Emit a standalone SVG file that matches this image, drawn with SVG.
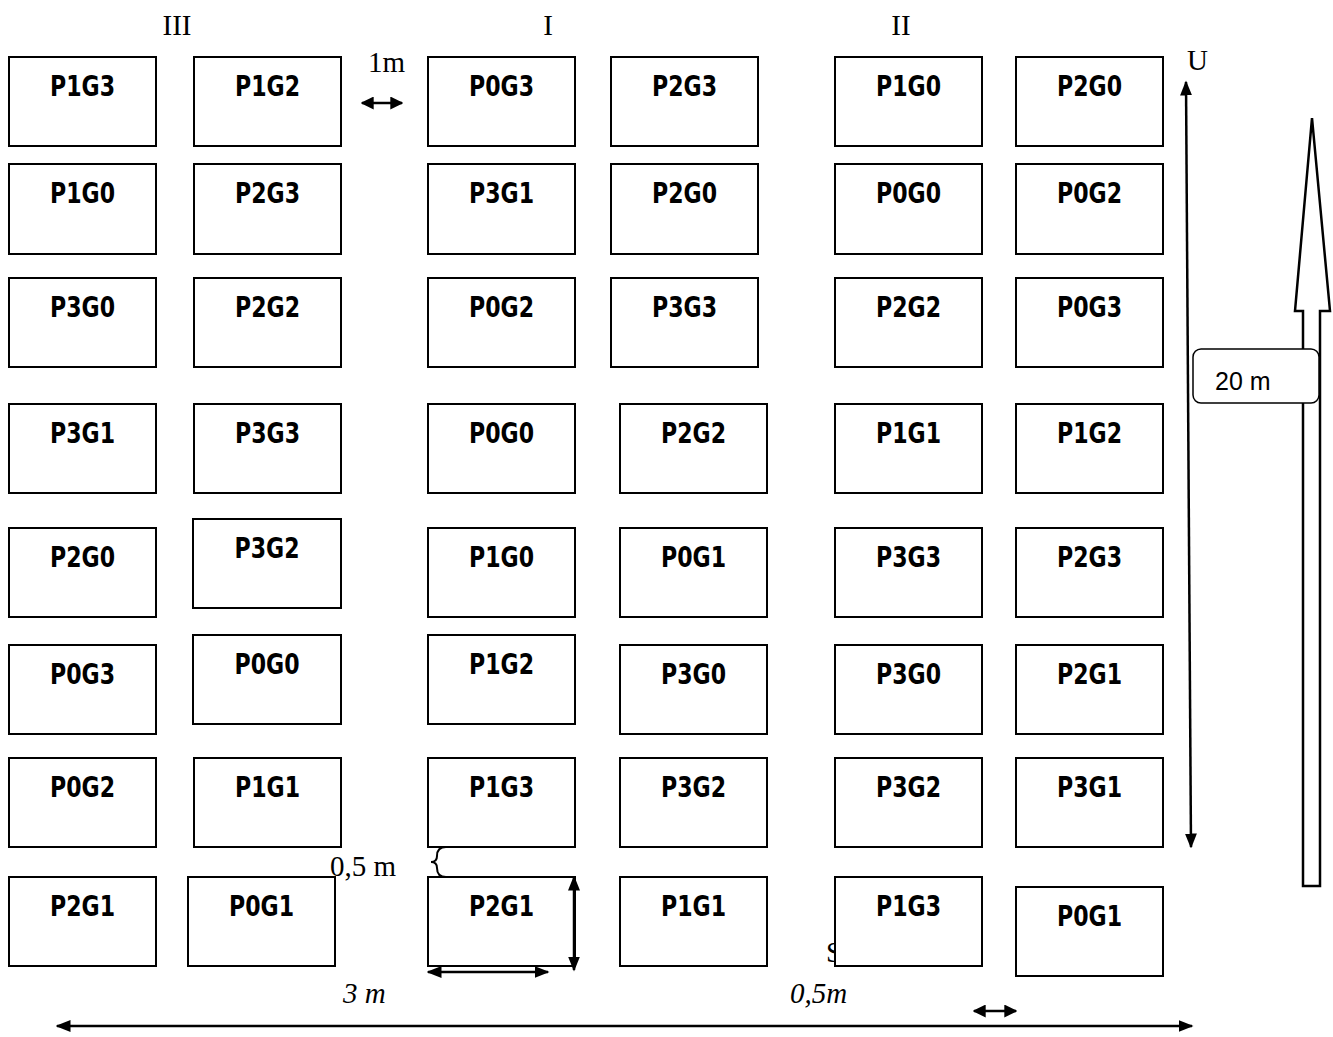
<svg xmlns="http://www.w3.org/2000/svg" width="1333" height="1037" viewBox="0 0 1333 1037">
<style>
.b{fill:#fff;stroke:#000;stroke-width:2}
.t{font-family:"DejaVu Sans",sans-serif;font-weight:bold;font-size:29px;text-anchor:middle}
.s{font-family:"Liberation Serif",serif;font-size:29px}
.i{font-family:"Liberation Serif",serif;font-size:29px;font-style:italic}
.l{stroke:#000;stroke-width:2.5;fill:none}
</style>
<defs>
<marker id="ah" viewBox="0 0 10 10" refX="9" refY="5" markerWidth="13" markerHeight="13" markerUnits="userSpaceOnUse" orient="auto-start-reverse">
<path d="M0,0 L10,5 L0,10 z" fill="#000"/>
</marker>
<marker id="ab" viewBox="0 0 10 10" refX="9" refY="5" markerWidth="15" markerHeight="15" markerUnits="userSpaceOnUse" orient="auto-start-reverse">
<path d="M0,1 L10,5 L0,9 z" fill="#000"/>
</marker>
</defs>
<text class="s" x="177" y="35" text-anchor="middle">III</text>
<text class="s" x="548" y="35" text-anchor="middle">I</text>
<text class="s" x="901" y="35" text-anchor="middle">II</text>
<text class="s" x="368" y="72">1m</text>
<text class="s" x="1187" y="70">U</text>
<text class="s" x="826" y="962">S</text>

<g id="nodes">
<g id="r1c1"><rect class="b" x="9" y="57" width="147" height="89"/><text class="t" x="82.5" y="96" textLength="65" lengthAdjust="spacingAndGlyphs">P1G3</text></g>
<g id="r1c2"><rect class="b" x="194" y="57" width="147" height="89"/><text class="t" x="267.5" y="96" textLength="65" lengthAdjust="spacingAndGlyphs">P1G2</text></g>
<g id="r1c3"><rect class="b" x="428" y="57" width="147" height="89"/><text class="t" x="501.5" y="96" textLength="65" lengthAdjust="spacingAndGlyphs">P0G3</text></g>
<g id="r1c4"><rect class="b" x="611" y="57" width="147" height="89"/><text class="t" x="684.5" y="96" textLength="65" lengthAdjust="spacingAndGlyphs">P2G3</text></g>
<g id="r1c5"><rect class="b" x="835" y="57" width="147" height="89"/><text class="t" x="908.5" y="96" textLength="65" lengthAdjust="spacingAndGlyphs">P1G0</text></g>
<g id="r1c6"><rect class="b" x="1016" y="57" width="147" height="89"/><text class="t" x="1089.5" y="96" textLength="65" lengthAdjust="spacingAndGlyphs">P2G0</text></g>

<g id="r2c1"><rect class="b" x="9" y="164" width="147" height="90"/><text class="t" x="82.5" y="203" textLength="65" lengthAdjust="spacingAndGlyphs">P1G0</text></g>
<g id="r2c2"><rect class="b" x="194" y="164" width="147" height="90"/><text class="t" x="267.5" y="203" textLength="65" lengthAdjust="spacingAndGlyphs">P2G3</text></g>
<g id="r2c3"><rect class="b" x="428" y="164" width="147" height="90"/><text class="t" x="501.5" y="203" textLength="65" lengthAdjust="spacingAndGlyphs">P3G1</text></g>
<g id="r2c4"><rect class="b" x="611" y="164" width="147" height="90"/><text class="t" x="684.5" y="203" textLength="65" lengthAdjust="spacingAndGlyphs">P2G0</text></g>
<g id="r2c5"><rect class="b" x="835" y="164" width="147" height="90"/><text class="t" x="908.5" y="203" textLength="65" lengthAdjust="spacingAndGlyphs">P0G0</text></g>
<g id="r2c6"><rect class="b" x="1016" y="164" width="147" height="90"/><text class="t" x="1089.5" y="203" textLength="65" lengthAdjust="spacingAndGlyphs">P0G2</text></g>

<g id="r3c1"><rect class="b" x="9" y="278" width="147" height="89"/><text class="t" x="82.5" y="317" textLength="65" lengthAdjust="spacingAndGlyphs">P3G0</text></g>
<g id="r3c2"><rect class="b" x="194" y="278" width="147" height="89"/><text class="t" x="267.5" y="317" textLength="65" lengthAdjust="spacingAndGlyphs">P2G2</text></g>
<g id="r3c3"><rect class="b" x="428" y="278" width="147" height="89"/><text class="t" x="501.5" y="317" textLength="65" lengthAdjust="spacingAndGlyphs">P0G2</text></g>
<g id="r3c4"><rect class="b" x="611" y="278" width="147" height="89"/><text class="t" x="684.5" y="317" textLength="65" lengthAdjust="spacingAndGlyphs">P3G3</text></g>
<g id="r3c5"><rect class="b" x="835" y="278" width="147" height="89"/><text class="t" x="908.5" y="317" textLength="65" lengthAdjust="spacingAndGlyphs">P2G2</text></g>
<g id="r3c6"><rect class="b" x="1016" y="278" width="147" height="89"/><text class="t" x="1089.5" y="317" textLength="65" lengthAdjust="spacingAndGlyphs">P0G3</text></g>

<g id="r4c1"><rect class="b" x="9" y="404" width="147" height="89"/><text class="t" x="82.5" y="443" textLength="65" lengthAdjust="spacingAndGlyphs">P3G1</text></g>
<g id="r4c2"><rect class="b" x="194" y="404" width="147" height="89"/><text class="t" x="267.5" y="443" textLength="65" lengthAdjust="spacingAndGlyphs">P3G3</text></g>
<g id="r4c3"><rect class="b" x="428" y="404" width="147" height="89"/><text class="t" x="501.5" y="443" textLength="65" lengthAdjust="spacingAndGlyphs">P0G0</text></g>
<g id="r4c4"><rect class="b" x="620" y="404" width="147" height="89"/><text class="t" x="693.5" y="443" textLength="65" lengthAdjust="spacingAndGlyphs">P2G2</text></g>
<g id="r4c5"><rect class="b" x="835" y="404" width="147" height="89"/><text class="t" x="908.5" y="443" textLength="65" lengthAdjust="spacingAndGlyphs">P1G1</text></g>
<g id="r4c6"><rect class="b" x="1016" y="404" width="147" height="89"/><text class="t" x="1089.5" y="443" textLength="65" lengthAdjust="spacingAndGlyphs">P1G2</text></g>

<g id="r5c1"><rect class="b" x="9" y="528" width="147" height="89"/><text class="t" x="82.5" y="567" textLength="65" lengthAdjust="spacingAndGlyphs">P2G0</text></g>
<g id="r5c2"><rect class="b" x="193" y="519" width="148" height="89"/><text class="t" x="267" y="558" textLength="65" lengthAdjust="spacingAndGlyphs">P3G2</text></g>
<g id="r5c3"><rect class="b" x="428" y="528" width="147" height="89"/><text class="t" x="501.5" y="567" textLength="65" lengthAdjust="spacingAndGlyphs">P1G0</text></g>
<g id="r5c4"><rect class="b" x="620" y="528" width="147" height="89"/><text class="t" x="693.5" y="567" textLength="65" lengthAdjust="spacingAndGlyphs">P0G1</text></g>
<g id="r5c5"><rect class="b" x="835" y="528" width="147" height="89"/><text class="t" x="908.5" y="567" textLength="65" lengthAdjust="spacingAndGlyphs">P3G3</text></g>
<g id="r5c6"><rect class="b" x="1016" y="528" width="147" height="89"/><text class="t" x="1089.5" y="567" textLength="65" lengthAdjust="spacingAndGlyphs">P2G3</text></g>

<g id="r6c1"><rect class="b" x="9" y="645" width="147" height="89"/><text class="t" x="82.5" y="684" textLength="65" lengthAdjust="spacingAndGlyphs">P0G3</text></g>
<g id="r6c2"><rect class="b" x="193" y="635" width="148" height="89"/><text class="t" x="267" y="674" textLength="65" lengthAdjust="spacingAndGlyphs">P0G0</text></g>
<g id="r6c3"><rect class="b" x="428" y="635" width="147" height="89"/><text class="t" x="501.5" y="674" textLength="65" lengthAdjust="spacingAndGlyphs">P1G2</text></g>
<g id="r6c4"><rect class="b" x="620" y="645" width="147" height="89"/><text class="t" x="693.5" y="684" textLength="65" lengthAdjust="spacingAndGlyphs">P3G0</text></g>
<g id="r6c5"><rect class="b" x="835" y="645" width="147" height="89"/><text class="t" x="908.5" y="684" textLength="65" lengthAdjust="spacingAndGlyphs">P3G0</text></g>
<g id="r6c6"><rect class="b" x="1016" y="645" width="147" height="89"/><text class="t" x="1089.5" y="684" textLength="65" lengthAdjust="spacingAndGlyphs">P2G1</text></g>

<g id="r7c1"><rect class="b" x="9" y="758" width="147" height="89"/><text class="t" x="82.5" y="797" textLength="65" lengthAdjust="spacingAndGlyphs">P0G2</text></g>
<g id="r7c2"><rect class="b" x="194" y="758" width="147" height="89"/><text class="t" x="267.5" y="797" textLength="65" lengthAdjust="spacingAndGlyphs">P1G1</text></g>
<g id="r7c3"><rect class="b" x="428" y="758" width="147" height="89"/><text class="t" x="501.5" y="797" textLength="65" lengthAdjust="spacingAndGlyphs">P1G3</text></g>
<g id="r7c4"><rect class="b" x="620" y="758" width="147" height="89"/><text class="t" x="693.5" y="797" textLength="65" lengthAdjust="spacingAndGlyphs">P3G2</text></g>
<g id="r7c5"><rect class="b" x="835" y="758" width="147" height="89"/><text class="t" x="908.5" y="797" textLength="65" lengthAdjust="spacingAndGlyphs">P3G2</text></g>
<g id="r7c6"><rect class="b" x="1016" y="758" width="147" height="89"/><text class="t" x="1089.5" y="797" textLength="65" lengthAdjust="spacingAndGlyphs">P3G1</text></g>

<g id="r8c1"><rect class="b" x="9" y="877" width="147" height="89"/><text class="t" x="82.5" y="916" textLength="65" lengthAdjust="spacingAndGlyphs">P2G1</text></g>
<g id="r8c2"><rect class="b" x="188" y="877" width="147" height="89"/><text class="t" x="261.5" y="916" textLength="65" lengthAdjust="spacingAndGlyphs">P0G1</text></g>
<g id="r8c3"><rect class="b" x="428" y="877" width="147" height="89"/><text class="t" x="501.5" y="916" textLength="65" lengthAdjust="spacingAndGlyphs">P2G1</text></g>
<g id="r8c4"><rect class="b" x="620" y="877" width="147" height="89"/><text class="t" x="693.5" y="916" textLength="65" lengthAdjust="spacingAndGlyphs">P1G1</text></g>
<g id="r8c5"><rect class="b" x="835" y="877" width="147" height="89"/><text class="t" x="908.5" y="916" textLength="65" lengthAdjust="spacingAndGlyphs">P1G3</text></g>
<g id="r8c6"><rect class="b" x="1016" y="887" width="147" height="89"/><text class="t" x="1089.5" y="926" textLength="65" lengthAdjust="spacingAndGlyphs">P0G1</text></g>
</g>

<g id="connectors">
<line class="l" x1="362" y1="103" x2="402" y2="103" marker-start="url(#ah)" marker-end="url(#ah)"/>
<line class="l" x1="1186" y1="82" x2="1191" y2="847" marker-start="url(#ab)" marker-end="url(#ab)"/>
<path class="l" d="M1312,118 L1295,311 L1303,311 L1303,886 L1320,886 L1320,311 L1330,311 Z"/>
<path class="l" style="stroke-width:2" d="M446,847 Q437,847 437,856 Q437,862 431,862 Q437,862 437,868 Q437,877 446,877"/>
<line class="l" x1="574" y1="877" x2="574" y2="970" marker-start="url(#ab)" marker-end="url(#ab)"/>
<line class="l" x1="428" y1="972" x2="548" y2="972" marker-start="url(#ab)" marker-end="url(#ab)"/>
<line class="l" x1="974" y1="1011" x2="1016" y2="1011" marker-start="url(#ah)" marker-end="url(#ah)"/>
<line class="l" x1="57" y1="1026" x2="1192" y2="1026" marker-start="url(#ab)" marker-end="url(#ab)"/>
</g>
<g id="label20">
<rect x="1193" y="349" width="126" height="54" rx="8" fill="#fff" stroke="#000" stroke-width="1.5"/>
<text x="1215" y="390" font-family="Liberation Sans, sans-serif" font-size="25">20 m</text>
</g>
<text class="s" x="330" y="876">0,5 m</text>
<text class="i" x="343" y="1003">3 m</text>
<text class="i" x="790" y="1003">0,5m</text>
</svg>
